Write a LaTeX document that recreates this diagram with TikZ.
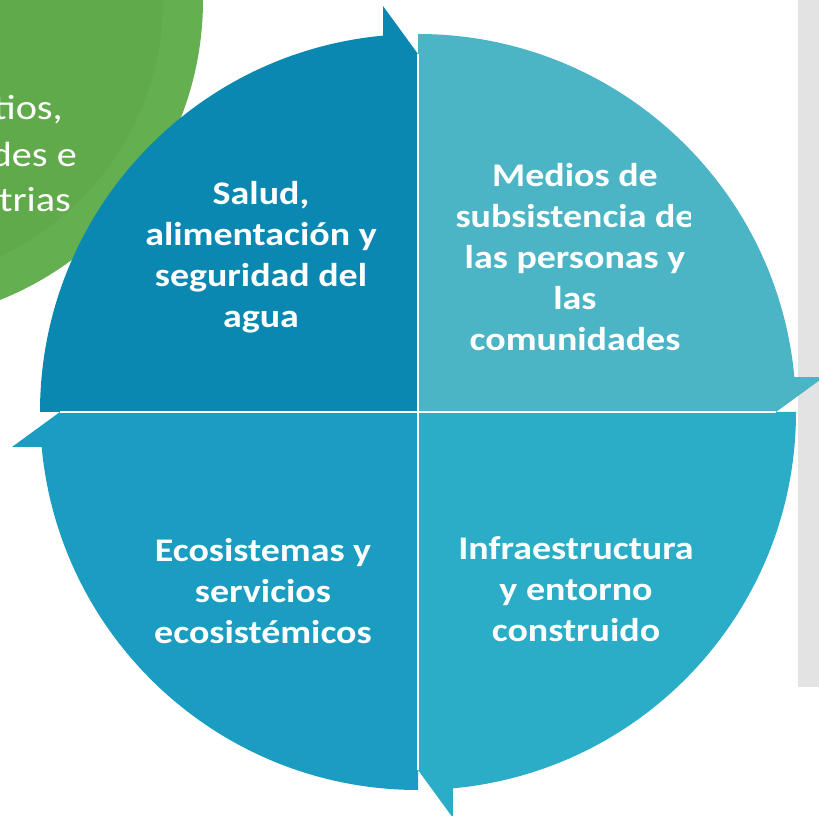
\documentclass[tikz,border=0pt]{standalone}
\usepackage{fontspec}
\setmainfont{Carlito}[FakeStretch=1.15]
\definecolor{salud}{HTML}{0B88B1}
\definecolor{medios}{HTML}{4BB5C5}
\definecolor{infra}{HTML}{2CADC7}
\definecolor{ecos}{HTML}{1A9DC0}
\definecolor{verde}{HTML}{64AF4F}
\definecolor{verdeosc}{HTML}{60AA4C}
\definecolor{panel}{HTML}{E3E3E3}
\begin{document}
\begin{tikzpicture}[x=1pt,y=1pt,
  lbl/.style={text=white,font=\fontsize{33}{41}\selectfont\bfseries,align=center},
  side/.style={text=white,font=\fontsize{35}{44}\selectfont,anchor=base east,inner sep=0pt}]
\useasboundingbox (0,0) rectangle (819,816);

% green circle in the back
\fill[verde] (-120,816) circle[radius=323];
\fill[verdeosc] (-120,816) circle[radius=283];
\node[side] (g1) at (63,696) {tios,};
\node[side] (g2) at (77,649) {des e};
\node[side] (g3) at (71,604) {trias};

% grey panel
\fill[panel] (798,129) rectangle (819,816);

% the four segments
\begin{scope}[shift={(418,404)}]
\foreach \rot/\col in {0/salud,-90/medios,-180/infra,-270/ecos}
  \fill[\col,rotate=\rot] (0,0) -- (180:378) arc[start angle=180,end angle=95.3,radius=378]
    -- (-35,406) -- (0,358) -- cycle;
\foreach \rot in {0,-90,-180,-270}
  \draw[white,line width=1.6,rotate=\rot] (0,0) -- (0,358);
\end{scope}

\node[lbl] (salud) at (261,559) {Salud,\\alimentación y\\seguridad del\\agua};
\begin{scope}
\clip (420,420) rectangle (690,790);
\node[lbl] (medios) at (575,559) {Medios de\\subsistencia de\\las personas y\\las\\comunidades};
\end{scope}
\node[lbl] (infra) at (576,227) {Infraestructura\\y entorno\\construido};
\node[lbl] (ecos) at (263,225) {Ecosistemas y\\servicios\\ecosistémicos};
\end{tikzpicture}
\end{document}
